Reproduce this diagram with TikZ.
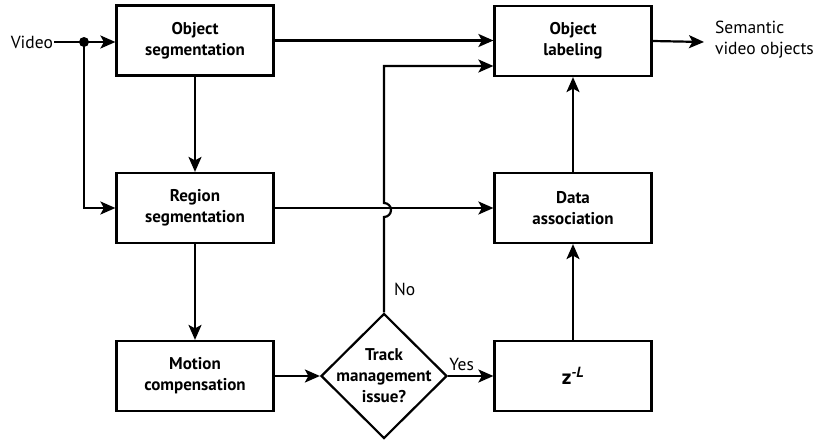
\documentclass[tikz,border=0pt]{standalone}
\usepackage{fontspec}
\setmainfont{PT Sans}
\usetikzlibrary{arrows.meta,shapes.geometric}
\begin{document}
\begin{tikzpicture}[x=1pt,y=-1pt,
  line width=2.2pt,
  font=\fontsize{17.5}{21}\selectfont,
  >={Stealth[length=15pt,width=13pt,inset=3.5pt]},
  block/.style={draw,rectangle,minimum width=157pt,minimum height=70pt,
    inner sep=0pt,align=center,font=\fontsize{17}{21}\selectfont\bfseries},
  lbl/.style={inner sep=0pt,align=left}]
\useasboundingbox (0,0) rectangle (816,439);

% processing blocks
\node[block] (os) at (195,40.5) {Object\\segmentation};
\node[block] (ol) at (573,41)   {Object\\labeling};
\node[block] (rs) at (195,208)  {Region\\segmentation};
\node[block] (da) at (573,208)  {Data\\association};
\node[block] (mc) at (195,376)  {Motion\\compensation};
\node[block,font=\fontsize{21}{24}\selectfont\bfseries] (zl) at (573,376) {z\textsuperscript{\itshape -L}};

% decision
\node[draw,diamond,inner sep=0pt,minimum width=126pt,minimum height=125pt] (dm) at (384,376) {};
\node[align=center,inner sep=0pt,font=\fontsize{17}{21}\selectfont\bfseries] (dmt) at (dm.center) {Track\\management\\issue?};

% input / output
\node[lbl,anchor=east] (vid) at (54,42) {Video};
\coordinate (split) at (84,42);
\node[lbl,anchor=west] (sem) at (714,40) {Semantic\\video objects};
\coordinate (out) at (704,42);
\coordinate (ret) at (384,66);

% connectors
\draw (vid.east) -- (split);
\draw[->] (split) -- (split -| os.west);
\draw[->] (split) |- (rs.west);
\fill (split) circle[radius=5pt];
\draw[->] (os.east) -- (os.east -| ol.west);
\draw[->] (ol.east) -- (out);
\draw[->] (os.south) -- (rs.north);
\draw[->] (rs.east) -- (rs.east -| da.west);
\draw[->] (rs.south) -- (mc.north);
\draw[->] (mc.east) -- (dm.west);
\draw[->] (dm.east) -- node[above=4pt,inner sep=0pt,pos=0.3] (yes) {Yes} (zl.west);
\draw[->] (zl.north) -- (da.south);
\draw[->] (da.north) -- (ol.south);
\draw[->] (dm.north) -- (384,217) arc[start angle=-90,end angle=90,radius=7pt]
  -- (ret) -- (ret -| ol.west);
\node[lbl,anchor=west] (no) at (393,289) {No};
\end{tikzpicture}
\end{document}
